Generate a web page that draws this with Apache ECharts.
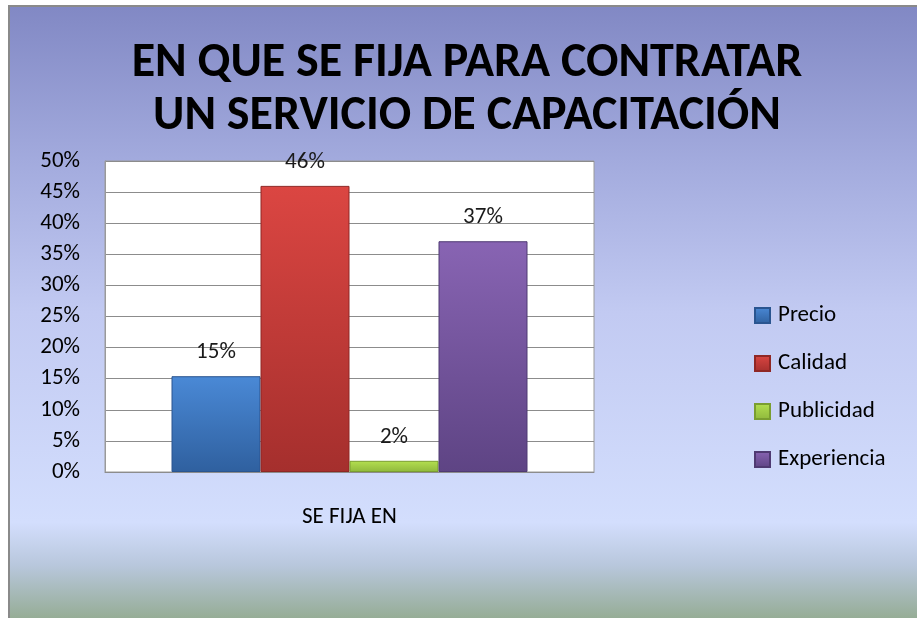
<!DOCTYPE html>
<html>
<head>
<meta charset="utf-8">
<script src="https://cdn.jsdelivr.net/npm/echarts@6/dist/echarts.min.js"></script>
<style>html,body{margin:0;padding:0;background:#fff}#c{width:917px;height:618px}</style>
</head>
<body>
<div id="c"></div>
<script>
// ---- data ----
const titleText = 'EN QUE SE FIJA PARA CONTRATAR\nUN SERVICIO DE CAPACITACIÓN';
const categories = ['SE FIJA EN'];
const seriesNames = ['Precio', 'Calidad', 'Publicidad', 'Experiencia'];
const precio = [15.4];
const calidad = [46.0];
const publicidad = [1.8];
const experiencia = [37.1];
const yTicks = { min: 0, max: 50, interval: 5 };

const FONT = "Carlito, 'Liberation Sans Narrow', 'Open Sans', 'Liberation Sans', sans-serif";
const colors = [
  ['#4a89d6', '#2f609f', '#2a5590'],
  ['#db4642', '#a52f2d', '#8f2725'],
  ['#b4e050', '#8fb83c', '#7a9e30'],
  ['#8864b3', '#5e4484', '#4f3a72']
];
function grad(c) {
  return new echarts.graphic.LinearGradient(0, 0, 0, 1, [
    { offset: 0, color: c[0] }, { offset: 1, color: c[1] }
  ]);
}
const values = [precio, calidad, publicidad, experiencia];

const chart = echarts.init(document.getElementById('c'), null, { renderer: 'canvas' });
chart.setOption({
  animation: false,
  graphic: [{
    type: 'rect', z: -10, silent: true,
    shape: { x: 9, y: 6, width: 910, height: 614 },
    style: {
      fill: new echarts.graphic.LinearGradient(0, 0, 0, 1, [
        { offset: 0, color: '#8188c4' },
        { offset: 0.25, color: '#a2aadd' },
        { offset: 0.5, color: '#c2caf2' },
        { offset: 0.84, color: '#d3defd' },
        { offset: 0.91, color: '#b8c7dc' },
        { offset: 1, color: '#94ab92' }
      ]),
      stroke: '#8a8a8a', lineWidth: 2
    }
  }],
  title: {
    text: titleText,
    left: 467,
    textAlign: 'center',
    top: 37,
    padding: 0,
    textStyle: { fontFamily: FONT, fontSize: 48, fontWeight: 'bold', color: '#000', lineHeight: 53 }
  },
  legend: {
    orient: 'vertical',
    left: 749, top: 299,
    itemWidth: 15, itemHeight: 15, itemGap: 25,
    icon: 'rect',
    textStyle: { fontFamily: FONT, fontSize: 23, color: '#000', padding: [0, 0, 0, 3] },
    data: seriesNames
  },
  grid: {
    left: 105, right: 323, top: 161, bottom: 146,
    show: true, backgroundColor: '#ffffff', borderColor: '#9a9a9a', borderWidth: 1,
    containLabel: false
  },
  xAxis: {
    type: 'category', data: categories,
    axisLine: { show: true, lineStyle: { color: '#8c8c8c' } },
    axisTick: { show: false },
    axisLabel: { fontFamily: FONT, fontSize: 23, color: '#000', margin: 34 }
  },
  yAxis: {
    type: 'value', min: yTicks.min, max: yTicks.max, interval: yTicks.interval,
    axisLine: { show: true, lineStyle: { color: '#9a9a9a' } },
    axisTick: { show: false },
    splitLine: { lineStyle: { color: '#8c8c8c', width: 1 } },
    axisLabel: { fontFamily: FONT, fontSize: 23, color: '#000', margin: 25, formatter: '{value}%' }
  },
  series: seriesNames.map((n, i) => ({
    name: n, type: 'bar', data: values[i],
    barWidth: 89, barGap: '0%',
    itemStyle: { color: grad(colors[i]), borderColor: colors[i][2], borderWidth: 1 },
    label: {
      show: true, position: 'top', distance: 12,
      fontFamily: FONT, fontSize: 23, color: '#1a1a1a',
      formatter: p => Math.round(p.value) + '%'
    }
  }))
});
</script>
</body>
</html>
